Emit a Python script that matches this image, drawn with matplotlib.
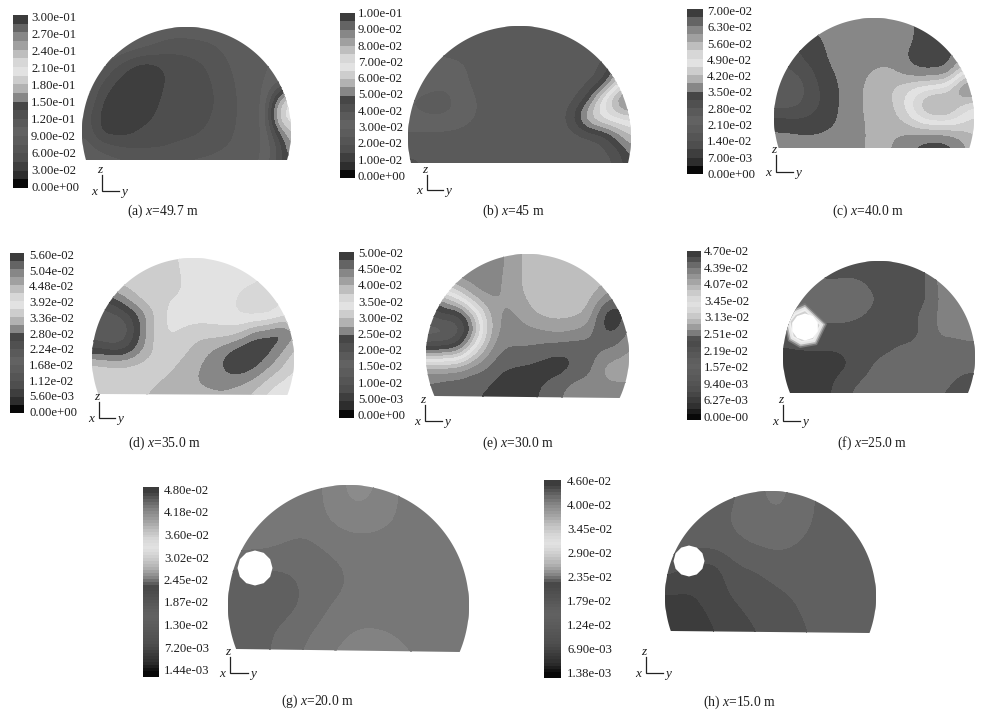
import numpy as np
import matplotlib
matplotlib.use("Agg")
import matplotlib.pyplot as plt
from matplotlib.patches import Polygon, RegularPolygon

plt.rcParams['font.family'] = ['Liberation Serif', 'DejaVu Serif']
plt.rcParams['mathtext.fontset'] = 'custom'
plt.rcParams['mathtext.rm'] = 'Liberation Serif'
plt.rcParams['mathtext.it'] = 'Liberation Serif:italic'

# grey level of each of the 20 legend bands, bottom to top
band_grey = [8, 45, 62, 78, 85, 92, 98, 90, 80, 70, 135, 178, 205, 226, 215, 190, 160, 135, 100, 60]

# field values, in legend-band units (0-20); first row = crown, last row = floor
grid_a = [
 [6,6,6,6,6,5.5,5.5,5.5,5.5,5.5,5.5,6,6,6,6],
 [6,6,6,5.5,5,4.6,4.2,4.3,4.6,5,5.5,5.8,6,6,6],
 [6,5.5,4,2.8,2.3,2.8,3.4,3.6,3.9,4.5,5.2,5.7,6,6,6],
 [5.8,4,2.7,2.3,2.3,2.8,3.3,3.5,3.8,4.2,5,5.6,5.9,6.5,7],
 [5.5,2.9,2.4,2.3,2.4,3.0,3.4,3.5,3.7,4.1,4.9,5.5,5.8,11,14],
 [4.5,2.6,2.4,2.4,2.6,3.2,3.5,3.6,3.8,4.2,4.9,5.5,5.8,13.5,14],
 [5,2.6,2.5,2.7,3.3,3.5,3.7,3.8,4,4.5,5,5.5,5.9,9.5,12.5],
 [5.6,5,4.4,4.1,4,4,4.2,4.4,4.6,4.9,5.2,5.6,6,8,11.5],
 [5.8,5.8,5.6,5.4,5.3,5.2,5.3,5.4,5.5,5.6,5.8,5.9,6,9,10.5],
]
grid_b = [
 [7.5]*15,
 [7,7,7.5,7.5,7.5,7.5,7.5,7.5,7.5,7.5,7.5,7.5,7.5,7.5,7.5],
 [6.5,6.5,6.5,6.7,7.4,7.5,7.5,7.5,7.5,7.5,7.5,7.5,8,10,11],
 [6.5,6.5,6.2,6.5,7.3,7.5,7.5,7.5,7.5,7.5,7.5,7.6,8.5,13,14],
 [6,5.5,5.5,6.2,6.9,7.5,7.5,7.5,7.5,7.5,7.5,9,14,17.5,19.5],
 [6.2,6,6,6.3,7,7.5,7.5,7.5,7.5,7.5,8.3,12.5,13.5,14,14],
 [7.2,7.3,7.3,7.4,7.5,7.5,7.5,7.5,7.5,7.5,7.5,7.6,8.3,10.5,12.5],
 [7.5,7.5,7.5,7.5,7.5,7.5,7.5,7.5,7.5,7.5,7.5,7.5,7.5,8.5,10.5],
 [9,7.5,7.5,7.5,7.5,7.5,7.5,7.5,7.5,7.5,7.5,7.5,7.5,8.1,10.5],
]
grid_c = [
 [10.5,10.5,10.5,10.5,10.5,10.5,10.5,10.5,10.5,10.2,9.8,9.5,9.5,9.5,9.5],
 [9.5,9.5,9.5,9.8,10.5,10.5,10.5,10.5,10.5,10.3,9.7,9.5,9.5,9.5,9.5],
 [8,8,9.5,9.7,10.3,10.5,10.5,10.5,10.5,9.9,9.5,9.5,9.7,10.5,10.5],
 [8,8,8.2,9.5,10,10.5,10.8,11.2,11.2,10.3,9.8,9.8,9.9,13,14],
 [7,7,8,9,9.7,10.5,11,11.5,12,12.7,13.5,13.8,14.5,18,18],
 [7.5,7.5,8.2,9,9.6,10.7,11,11.3,11.7,13.3,15.5,17.3,16.5,14.5,13.5],
 [9.5,9.3,9.2,9.5,9.9,10.5,11,11.2,11.5,12,13.2,13.6,13.8,13,12.5],
 [10.3,10.3,10.2,10.2,10.3,10.5,10.9,11.3,11,10.5,10,9.8,9.9,11,12],
 [10.5,10.5,10.5,10.5,10.5,10.6,11,11.3,11,10.4,9.5,9.4,9.5,10.6,11.5],
]
grid_d = [
 [12.5,12.5,12.5,12.5,12.5,12.7,13.1,13.5,13.5,13.5,13.5,14,14,14,14],
 [12.5,12.5,12.5,12.5,12.6,12.7,12.9,13.5,13.5,13.5,13.6,13.8,14,14,14],
 [9,9.5,11,12.3,12.7,12.9,13,13.5,13.5,13.5,14.2,14.5,14.4,14,14],
 [7,7.5,8,9.8,11.8,13.2,13.5,13.5,13.5,13.5,14.2,14.5,14.4,13.5,14],
 [7,6.5,7,9.5,12.2,13.2,12.8,12.4,12.5,12.7,12.2,10.4,9.9,9.0,11],
 [9,8.5,8.5,10.3,12,12.8,12.4,11.5,10.9,10.1,9.1,8.8,9.4,10.8,12.5],
 [12.5,12.3,12.3,12.5,12.6,12.4,11.5,11,10.6,9.5,9.0,9.6,10.8,12,13],
 [13,12.9,12.8,12.5,12.1,11.5,11.2,11,10.8,10.6,10.9,11.5,12.5,13.2,13.8],
 [11.5,12.3,12.5,12.1,11.5,11.4,11.3,11.3,11.4,11.5,11.9,12.5,13.5,14.5,13.8],
]
grid_e = [
 [17.5,17.5,17.5,17.5,17.5,17.2,16.2,15.5,15.5,15.5,15.5,15.5,15.5,15.5,15.5],
 [17.5,17.5,17.5,17.5,17.5,17,16.2,15.5,15.5,15.5,15.5,15.5,15.5,15.5,15.5],
 [10,12,14,16.5,17.3,17,16.2,15.6,15.5,15.5,15.5,15.5,16.5,18,18.5],
 [8,9,8.5,11.5,15.5,17.3,17,16,15.5,15.5,15.6,16,19.5,19.9,18],
 [6,6,7,9.9,15,17.4,17.4,17.3,17,16.7,17,17.5,19.2,19,17.2],
 [9,9.3,9.8,13.5,16.5,18,18.1,18.1,18.5,18.8,18.9,18.6,18,17.5,16.8],
 [16.5,16.5,16.5,17.5,18,18.9,19.1,19.3,19.5,19.6,18.9,18.3,16.5,16.3,16.3],
 [18.3,18.6,18.8,18.9,19,19.5,19.5,19.3,18.8,18.1,17.4,17.5,17.3,17.2,17.2],
 [18.5,18.6,18.8,18.9,19.1,19.5,19.6,19.2,18.6,18,17.6,17.4,17.3,17.7,18.3],
]
grid_f = [
 [19,19,19,19,19,19,19,19,19,19,18.9,17.7,17.7,17.7,17.7],
 [18.3,18.3,18.3,18.6,18.5,18.5,18.7,19,19,19,18.8,17.8,17.8,17.8,17.8],
 [18.3,18.3,18.3,18.3,18.3,18.3,18.5,18.7,19,19,18.9,17.9,17.8,17.8,17.5],
 [18.3,18.3,18.3,18.4,18.4,18.5,18.7,19,19,19,18.3,17.9,17.8,17.7,17.6],
 [19,19,19,19,18.9,19,19,19,18.9,19,18.5,17.9,17.9,17.8,17.7],
 [19.4,19.3,19.3,19.3,19.3,19,18.9,18.8,18.6,18.4,18.3,18.2,18.2,18.2,18.2],
 [19.5,19.6,19.6,19.6,19.5,19.3,18.7,18.4,18.3,18.3,18.3,18.3,18.3,18.4,18.5],
 [19.5,19.6,19.6,19.5,19,18.6,18.4,18.3,18.3,18.3,18.3,18.4,18.6,19,18.9],
 [19.5,19.6,19.6,19.5,18.7,18.6,18.3,18.3,18.3,18.3,18.3,18.6,18.9,19,19],
]
grid_g = [
 [18,18,18,18,17.7,17.3,17.5,17.9,18,18,18],
 [18,18,18,18,17.75,17.65,17.7,17.85,18,18,18],
 [18,18,18.1,18.25,18.05,17.95,17.95,18,18,18,18],
 [18.6,18.6,18.55,18.35,18.3,18.05,18,18,18,18,18],
 [18.6,18.6,18.6,18.4,18.1,18,18,18,18,18,18],
 [18.6,18.55,18.35,18.15,17.95,17.75,17.75,17.85,18,18,18],
 [18.6,18.55,18.3,18.05,17.75,17.65,17.65,17.7,17.85,17.95,18],
]
grid_h = [
 [18.5,18.5,18.5,18.5,18.2,18,18.2,18.5,18.5,18.5,18.5],
 [18.5,18.5,18.5,18.4,18.25,18.2,18.25,18.5,18.55,18.55,18.55],
 [18.6,18.6,18.6,18.5,18.4,18.35,18.45,18.55,18.6,18.6,18.6],
 [18.9,19.2,19.3,18.8,18.75,18.6,18.55,18.55,18.55,18.6,18.6],
 [19.4,19.4,19.2,19.0,18.9,18.8,18.7,18.55,18.55,18.55,18.55],
 [19.5,19.5,19.35,19.15,19,18.9,18.8,18.6,18.55,18.55,18.55],
 [19.7,19.6,19.4,19.3,19.1,18.95,18.85,18.7,18.55,18.55,18.55],
]

ticks_a = ["0.00e+00","3.00e-02","6.00e-02","9.00e-02","1.20e-01","1.50e-01","1.80e-01","2.10e-01","2.40e-01","2.70e-01","3.00e-01"]
ticks_b = ["0.00e+00","1.00e-02","2.00e-02","3.00e-02","4.00e-02","5.00e-02","6.00e-02","7.00e-02","8.00e-02","9.00e-02","1.00e-01"]
ticks_c = ["0.00e+00","7.00e-03","1.40e-02","2.10e-02","2.80e-02","3.50e-02","4.20e-02","4.90e-02","5.60e-02","6.30e-02","7.00e-02"]
ticks_d = ["0.00e+00","5.60e-03","1.12e-02","1.68e-02","2.24e-02","2.80e-02","3.36e-02","3.92e-02","4.48e-02","5.04e-02","5.60e-02"]
ticks_e = ["0.00e+00","5.00e-03","1.00e-02","1.50e-02","2.00e-02","2.50e-02","3.00e-02","3.50e-02","4.00e-02","4.50e-02","5.00e-02"]
ticks_f = ["0.00e-00","6.27e-03","9.40e-03","1.57e-02","2.19e-02","2.51e-02","3.13e-02","3.45e-02","4.07e-02","4.39e-02","4.70e-02"]
ticks_g = ["1.44e-03","7.20e-03","1.30e-02","1.87e-02","2.45e-02","3.02e-02","3.60e-02","4.18e-02","4.80e-02"]
ticks_h = ["1.38e-03","6.90e-03","1.24e-02","1.79e-02","2.35e-02","2.90e-02","3.45e-02","4.00e-02","4.60e-02"]

caption_a = r"(a) $\mathit{x}$=49.7 m"
caption_b = r"(b) $\mathit{x}$=45 m"
caption_c = r"(c) $\mathit{x}$=40.0 m"
caption_d = r"(d) $\mathit{x}$=35.0 m"
caption_e = r"(e) $\mathit{x}$=30.0 m"
caption_f = r"(f) $\mathit{x}$=25.0 m"
caption_g = r"(g) $\mathit{x}$=20.0 m"
caption_h = r"(h) $\mathit{x}$=15.0 m"

panels = [
 dict(g=grid_a, t=ticks_a, c=caption_a, vmin=0, vmax=.30, n=20, L=82, R=291, top=27, bl=160, br=160,
      bar=(13,28,15,188), lab=(31,18,188), ori=(102,191), axl=(175,119), cap=(163,211)),
 dict(g=grid_b, t=ticks_b, c=caption_b, vmin=0, vmax=.10, n=20, L=408, R=631, top=26, bl=163, br=163,
      bar=(340,355,13,178), lab=(358,14,177), ori=(427,190), axl=(175,443), cap=(513,211)),
 dict(g=grid_c, t=ticks_c, c=caption_c, vmin=0, vmax=.07, n=20, L=774, R=974, top=18, bl=148, br=148,
      bar=(687,703,9,174), lab=(707,12,175), ori=(776,172), axl=(155,793), cap=(868,211)),
 dict(g=grid_d, t=ticks_d, c=caption_d, vmin=0, vmax=.056, n=20, L=92, R=294, top=258, bl=394, br=395,
      bar=(10,24,253,413), lab=(29,256,413), ori=(99,418), axl=(402,115), cap=(164,443)),
 dict(g=grid_e, t=ticks_e, c=caption_e, vmin=0, vmax=.05, n=20, L=426, R=629, top=254, bl=396, br=398,
      bar=(339,354,252,418), lab=(358,254,416), ori=(425,421), axl=(405,442), cap=(518,443)),
 dict(g=grid_f, t=ticks_f, c=caption_f, vmin=0, vmax=.047, n=30, L=783, R=975, top=261, bl=393, br=393,
      bar=(687,701,251,420), lab=(704,252,418), ori=(783,421), axl=(405,800), cap=(872,443),
      hole=(805,327,13.5,10), ring=True),
 dict(g=grid_g, t=ticks_g, c=caption_g, vmin=.00144, vmax=.048, n=64, L=228, R=469, top=485, bl=649, br=652,
      bar=(143,159,487,677), lab=(164,491,671), ori=(230,673), axl=(657,248), cap=(317,701),
      hole=(255,568,17.5,12)),
 dict(g=grid_h, t=ticks_h, c=caption_h, vmin=.00138, vmax=.046, n=64, L=665, R=876, top=491, bl=631, br=633,
      bar=(544,561,480,678), lab=(567,482,674), ori=(646,673), axl=(657,663), cap=(739,702),
      hole=(689,561,15.5,12)),
]

ring_shape = [(0,-24),(22,-3),(12,18),(-5,21),(-17,14),(-22,-8),(-14,-18)]
ring_steps = [(1.0,'#787878'),(.92,'#b0b0b0'),(.84,'#e6e6e6'),(.74,'#f0f0f0'),(.66,'#d0d0d0')]

def band_colors(n):
    centres = np.arange(20) + .5
    pos = (np.arange(n) + .5) * 20 / n
    if n == 20:
        vals = np.array(band_grey, float)
    else:
        vals = np.interp(pos, centres, band_grey)
    return [(v/255, v/255, v/255) for v in vals]

def refine(x, y, z, k=4):
    """Round the polygonal contour corners of a coarse field for drawing."""
    xf = np.linspace(x[0], x[-1], (len(x) - 1) * k + 1)
    yf = np.linspace(y[0], y[-1], (len(y) - 1) * k + 1)
    zf = np.array([np.interp(xf, x, row) for row in z])
    zf = np.array([np.interp(yf, y, col) for col in zf.T]).T
    kern = np.ones(k) / k
    for _ in range(2):
        pad = k
        zp = np.pad(zf, pad, mode='edge')
        zp = np.apply_along_axis(lambda r: np.convolve(r, kern, mode='same'), 1, zp)
        zp = np.apply_along_axis(lambda r: np.convolve(r, kern, mode='same'), 0, zp)
        zf = zp[pad:-pad, pad:-pad]
    return xf, yf, zf

fig = plt.figure(figsize=(9.83, 7.16), dpi=100)
ax = fig.add_axes([0, 0, 1, 1])
ax.set_xlim(0, 983)
ax.set_ylim(716, 0)
ax.axis('off')

TXT = '#1e1e1e'
for p in panels:
    grid = np.array(p['g'], float)
    span = p['vmax'] - p['vmin']
    values = p['vmin'] + grid / 20 * span
    levels = np.linspace(p['vmin'], p['vmax'], p['n'] + 1)
    colors = band_colors(p['n'])
    rows, cols = grid.shape
    base = (p['bl'] + p['br']) / 2
    X = np.linspace(p['L'], p['R'], cols)
    Y = np.linspace(p['top'], base + 3, rows)
    Xf, Yf, Vf = refine(X, Y, values)
    cs = ax.contourf(Xf, Yf, Vf, levels=levels, colors=colors, zorder=2)
    cs.set_edgecolor('face')
    cs.set_linewidth(0.4)
    # outline of the tunnel section
    rad = (p['R'] - p['L']) / 2
    cx = (p['L'] + p['R']) / 2
    cy = p['top'] + rad
    a0 = np.arcsin((p['bl'] - cy) / rad)
    a1 = np.arcsin((p['br'] - cy) / rad)
    th = np.linspace(np.pi - a0, 2 * np.pi + a1, 300)
    outline = np.column_stack([cx + rad * np.cos(th), cy + rad * np.sin(th)])
    clip = Polygon(outline, closed=True, transform=ax.transData, fc='none', ec='none')
    ax.add_patch(clip)
    cs.set_clip_path(clip)
    if 'hole' in p:
        hx, hy, hr, nv = p['hole']
        if p.get('ring'):
            for k, col in ring_steps:
                pts = [(hx + k*dx, hy + k*dy) for dx, dy in ring_shape]
                pg = Polygon(pts, closed=True, fc=col, ec='none', zorder=3)
                ax.add_patch(pg)
                pg.set_clip_path(clip)
        ax.add_patch(RegularPolygon((hx, hy), nv, radius=hr, fc='white', ec='none', zorder=4))
    # legend bar
    x0, x1, y0, y1 = p['bar']
    edges = np.linspace(y1, y0, p['n'] + 1)
    for i in range(p['n']):
        ax.fill_between([x0, x1], edges[i], edges[i+1], color=colors[i], lw=0, zorder=2)
    lx, ly0, ly1 = p['lab']
    ys = np.linspace(ly1, ly0, len(p['t']))
    for yy, s in zip(ys, p['t']):
        ax.text(lx, yy, s, fontsize=9.2, color=TXT, ha='left', va='center', zorder=5)
    # axis triad
    ox, oy = p['ori']
    ztop, yend = p['axl']
    ax.plot([ox, ox, yend], [ztop, oy, oy], color='#222222', lw=0.9, zorder=5, solid_joinstyle='miter')
    style = dict(fontsize=9.5, style='italic', color=TXT, ha='center', va='center', zorder=5)
    ax.text(ox - 2, ztop - 5, 'z', **style)
    ax.text(yend + 5, oy + 1, 'y', **style)
    ax.text(ox - 8, oy + 1, 'x', **style)
    ax.text(*p['cap'], p['c'], fontsize=9.8, color=TXT, ha='center', va='center', zorder=5)

fig.savefig('out.png', dpi=100, facecolor='white')
